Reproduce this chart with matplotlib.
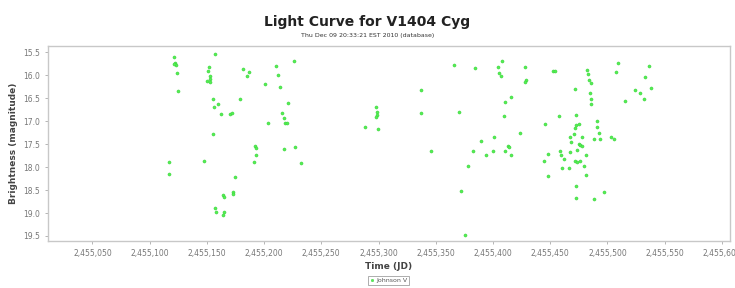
import matplotlib.pyplot as plt
from matplotlib.ticker import FuncFormatter, MultipleLocator

# Julian dates (offset from 2,455,000) and V magnitudes
jd_offset = 2455000
jd = [
    121.7, 122.6, 123.2, 121.7, 123.7, 124.7, 116.7, 117.3,
    157.5, 152.3, 151.4, 152.9, 149.9, 152.9, 152.9, 155.2, 160.1, 156.6,
    162.2, 170.0, 172.1, 155.8, 147.3, 174.4, 172.6, 172.6, 164.5, 165.1,
    157.5, 158.1, 165.4, 163.9, 178.8, 182.0, 186.4, 184.9, 192.5, 193.1,
    193.1, 191.6, 201.2, 203.2, 210.6, 212.3, 214.3, 221.3, 215.5, 217.2,
    218.7, 220.2, 217.0, 227.2, 232.4, 226.0,
    297.4, 298.5, 298.5, 298.0, 288.6, 299.7, 336.7, 336.7, 345.5,
    365.8, 369.9, 371.9, 375.2, 378.4, 382.8, 384.5, 389.4, 393.5, 399.7,
    400.5, 404.3, 405.5, 406.9, 407.5, 410.4, 416.2, 409.5, 413.0, 413.9,
    410.4, 415.6, 423.5, 428.2, 429.1, 427.6, 445.1, 444.5, 447.7, 448.0,
    452.4, 453.9, 457.3, 471.3, 458.2, 459.7, 461.7, 460.2, 466.1, 467.6,
    468.4, 467.6, 471.3, 472.8, 474.8, 472.2, 470.5, 474.8, 476.3, 473.7,
    478.1, 478.1, 471.3, 473.3, 475.7, 480.9, 479.2, 472.2, 472.2, 481.5,
    488.2, 496.7, 482.3, 482.8, 483.7, 485.3, 484.4, 485.9, 485.3, 490.8,
    490.8, 492.6, 487.9, 493.2, 503.4, 505.4, 509.2, 507.7, 515.0, 523.8,
    528.1, 531.6, 533.1, 536.3, 538.3,
]
mag = [
    15.60, 15.73, 15.78, 15.76, 15.95, 16.34, 17.88, 18.15,
    15.54, 15.82, 15.91, 16.02, 16.12, 16.09, 16.15, 16.51, 16.63, 16.70,
    16.85, 16.85, 16.83, 17.28, 17.86, 18.21, 18.54, 18.59, 18.61, 18.66,
    18.90, 18.98, 18.97, 19.04, 16.51, 15.87, 15.93, 16.02, 17.54, 17.58,
    17.74, 17.89, 16.20, 17.05, 15.80, 15.99, 16.25, 16.60, 16.82, 16.94,
    17.05, 17.05, 17.60, 17.56, 17.91, 15.69,
    16.69, 16.80, 16.87, 16.91, 17.14, 17.18, 16.33, 16.83, 17.66,
    15.78, 16.80, 18.52, 19.47, 17.97, 17.65, 15.85, 17.43, 17.73, 17.65,
    17.35, 15.83, 15.95, 16.02, 15.69, 16.59, 16.48, 16.88, 17.54, 17.57,
    17.65, 17.73, 17.27, 15.83, 16.11, 16.15, 17.07, 17.86, 17.72, 18.20,
    15.91, 15.92, 16.88, 16.31, 17.65, 17.74, 17.83, 18.03, 18.03, 17.34,
    17.45, 17.68, 17.16, 17.09, 17.07, 16.87, 17.28, 17.50, 17.52, 17.63,
    17.54, 17.34, 17.86, 17.88, 17.86, 17.74, 17.98, 18.41, 18.68, 18.17,
    18.69, 18.54, 15.89, 15.98, 16.11, 16.18, 16.40, 16.51, 16.62, 17.00,
    17.14, 17.27, 17.40, 17.39, 17.34, 17.38, 15.73, 15.93, 16.57, 16.33,
    16.38, 16.53, 16.04, 15.80, 16.29,
]
series_name = "Johnson V"
title = "Light Curve for V1404 Cyg"
subtitle = "Thu Dec 09 20:33:21 EST 2010 (database)"

fig = plt.figure(figsize=(7.35, 2.88), dpi=100)
ax = fig.add_axes([0.065, 0.163, 0.928, 0.677])

x = [jd_offset + d for d in jd]
ax.scatter(x, mag, s=5, marker='o', color='#55ee55', edgecolors='#33cc33',
           linewidths=0.3, label=series_name, zorder=3)

ax.set_xlim(2455011, 2455607)
ax.set_ylim(19.61, 15.37)
ax.xaxis.set_major_locator(MultipleLocator(50))
ax.yaxis.set_major_locator(MultipleLocator(0.5))
ax.xaxis.set_major_formatter(FuncFormatter(lambda v, p: f"{int(round(v)):,}"))
ax.yaxis.set_major_formatter(FuncFormatter(lambda v, p: f"{v:.1f}"))

for s in ax.spines.values():
    s.set_color('#c8c8c8')
    s.set_linewidth(1.0)
ax.tick_params(labelsize=5.5, colors='#999999', length=2, width=0.5,
               labelcolor='#777777')

ax.set_xlabel("Time (JD)", fontsize=6.5, fontweight='bold', color='#444444', labelpad=3)
ax.set_ylabel("Brightness (magnitude)", fontsize=6.5, fontweight='bold', color='#444444', labelpad=4)

fig.text(0.5, 0.924, title, ha='center', va='center', fontsize=10, fontweight='bold', color='#222222')
fig.text(0.5, 0.878, subtitle, ha='center', va='center', fontsize=4.5, color='#333333')

leg = ax.legend(loc='upper center', bbox_to_anchor=(0.5, -0.18), fontsize=4.5,
                frameon=True, fancybox=False, handletextpad=0.3, borderpad=0.25,
                markerscale=0.8, handlelength=0.8, borderaxespad=0)
leg.get_frame().set_edgecolor('#888888')
leg.get_frame().set_linewidth(0.6)
for t in leg.get_texts():
    t.set_color('#555555')

fig.savefig("out.png", dpi=100)
